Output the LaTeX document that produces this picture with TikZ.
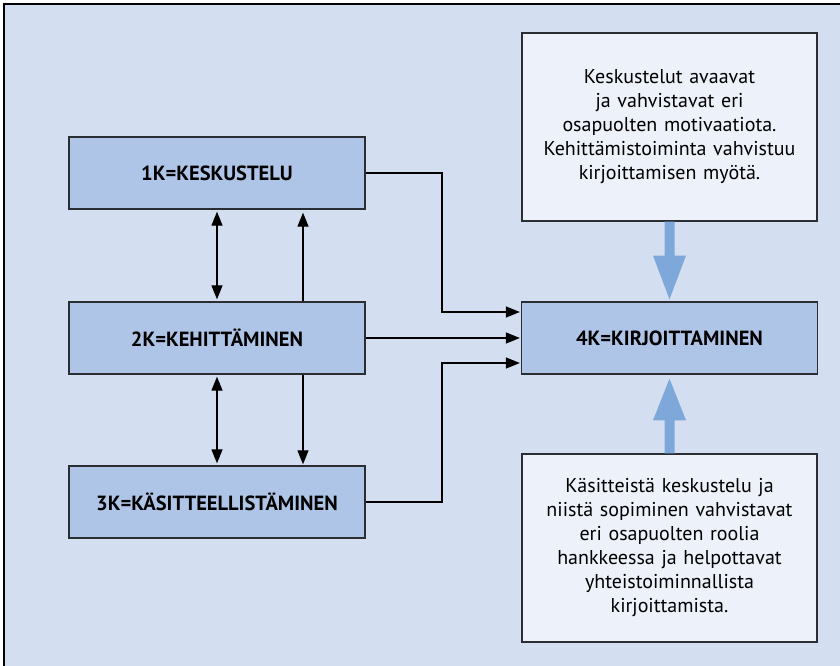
\documentclass[tikz,border=0pt]{standalone}
\usepackage{fontspec}
\setmainfont{PT Sans}
\usetikzlibrary{arrows.meta,calc}
\definecolor{bgblue}{HTML}{D3DFF0}
\definecolor{boxblue}{HTML}{AFC5E7}
\definecolor{txtbox}{HTML}{EDF1FA}
\definecolor{fatblue}{HTML}{7EA8DA}
\definecolor{edge}{HTML}{2A2E33}
\begin{document}
\begin{tikzpicture}[x=1pt,y=-1pt,
  kbox/.style={draw=edge,line width=1.3pt,fill=boxblue,minimum width=296pt,minimum height=72pt,font=\fontsize{20.5}{24}\selectfont\bfseries,inner sep=0pt},
  tbox/.style={draw=edge,line width=1.3pt,fill=txtbox,minimum width=295pt,text width=285pt,align=center,font=\fontsize{20}{24}\selectfont,inner sep=0pt},
  conn/.style={draw=black,line width=1.2pt,-{Triangle[length=14pt,width=11pt]}},
  dconn/.style={draw=black,line width=1.2pt,{Triangle[length=14pt,width=11pt]}-{Triangle[length=14pt,width=11pt]}},
  fat/.style={draw=none,fill=fatblue}
]
\useasboundingbox (0,0) rectangle (840,666);
\begin{scope}
\clip (0,0) rectangle (840,666);
\draw[line width=1.5pt,fill=bgblue] (4,4) rectangle (860,690);
\end{scope}

\node[kbox] (k1) at (217,173) {1K=KESKUSTELU};
\node[kbox] (k2) at (217,338) {2K=KEHITTÄMINEN};
\node[kbox] (k3) at (217,502) {3K=KÄSITTEELLISTÄMINEN};
\node[kbox] (k4) at (669.5,338) {4K=KIRJOITTAMINEN};

\node[tbox,minimum height=188pt] (t1) at (669.5,127) {Keskustelut avaavat\\ja vahvistavat eri\\osapuolten motivaatiota.\\Kehittämistoiminta vahvistuu\\kirjoittamisen myötä.};
\node[tbox,minimum height=188pt] (t2) at (669.5,548) {Käsitteistä keskustelu ja\\niistä sopiminen vahvistavat\\eri osapuolten roolia\\hankkeessa ja helpottavat\\yhteistoiminnallista\\kirjoittamista.};

% vertical connectors
\draw[dconn] ($(k1.south)+(0,2)$) -- ($(k2.north)+(0,-2)$);
\draw[conn] ($(k2.north)+(86,0)$) -- ($(k1.south)+(86,3)$);
\draw[dconn] ($(k2.south)+(0,2)$) -- ($(k3.north)+(0,-2)$);
\draw[conn] ($(k2.south)+(86,0)$) -- ($(k3.north)+(86,-1)$);

% connectors to 4K
\coordinate (j1) at (442,173);
\coordinate (j3) at (442,502);
\draw[conn] (k1.east) -- (j1) |- ($(k4.west)+(-1,-26)$);
\draw[conn] (k2.east) -- ($(k4.west)+(-1,0)$);
\draw[conn] (k3.east) -- (j3) |- ($(k4.west)+(-1,25)$);

% fat arrows
\fill[fat] ($(t1.south)+(-5,0)$) -- ($(t1.south)+(-5,34)$) -- ($(t1.south)+(-16.5,34)$)
  -- ($(k4.north)+(0,-2)$) -- ($(t1.south)+(16.5,34)$) -- ($(t1.south)+(5,34)$) -- ($(t1.south)+(5,0)$) -- cycle;
\fill[fat] ($(t2.north)+(-5,0)$) -- ($(t2.north)+(-5,-33)$) -- ($(t2.north)+(-16.5,-33)$)
  -- ($(k4.south)+(0,4)$) -- ($(t2.north)+(16.5,-33)$) -- ($(t2.north)+(5,-33)$) -- ($(t2.north)+(5,0)$) -- cycle;
\end{tikzpicture}
\end{document}
